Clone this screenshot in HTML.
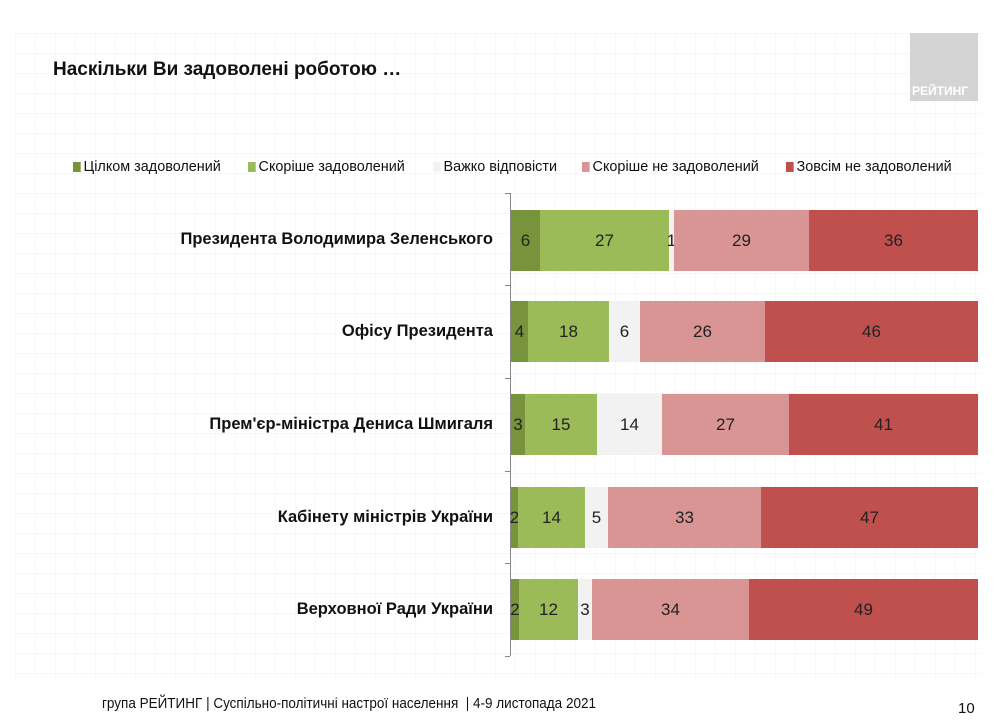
<!DOCTYPE html>
<html><head><meta charset="utf-8"><style>
body{margin:0;width:1007px;height:720px;background:#fff;position:relative;overflow:hidden;font-family:"Liberation Sans",sans-serif;color:#111}
.a{position:absolute;white-space:nowrap}
.grid{position:absolute;left:15px;top:33px;width:965px;height:645px;background-image:linear-gradient(#f7f7f7 1px,transparent 1px),linear-gradient(90deg,#f7f7f7 1px,transparent 1px);background-size:20px 20px}
.s{position:absolute;height:61px;display:flex;align-items:center;justify-content:center;font-size:17px;color:#222}
.lab{position:absolute;right:514px;font-weight:bold;font-size:16.5px;text-align:right;white-space:nowrap}
.lg{position:absolute;top:158px;font-size:15px;white-space:nowrap;transform:scaleX(0.96);transform-origin:left}
.lg i{display:inline-block;width:8px;height:10px;margin-right:3px;vertical-align:-1px}
</style></head><body>
<div class="grid"></div>
<div class="a" style="left:53px;top:59px;font-size:19px;font-weight:bold">Наскільки Ви задоволені роботою …</div>
<div class="a" style="left:910px;top:33px;width:68px;height:68px;background:#d4d4d4"></div>
<div class="a" style="left:912px;top:84px;font-size:12px;font-weight:bold;color:#fff">РЕЙТИНГ</div>

<div class="lg" style="left:73px"><i style="background:#77933c"></i>Цілком задоволений</div>
<div class="lg" style="left:248px"><i style="background:#9bbb59"></i>Скоріше задоволений</div>
<div class="lg" style="left:433px"><i style="background:#f2f2f2"></i>Важко відповісти</div>
<div class="lg" style="left:582px"><i style="background:#d99594"></i>Скоріше не задоволений</div>
<div class="lg" style="left:786px"><i style="background:#c0504d"></i>Зовсім не задоволений</div>

<div class="a" style="left:510px;top:193px;width:1px;height:463px;background:#888"></div>
<div class="a" style="left:505px;top:193px;width:5px;height:1px;background:#888"></div>
<div class="a" style="left:505px;top:285px;width:5px;height:1px;background:#888"></div>
<div class="a" style="left:505px;top:378px;width:5px;height:1px;background:#888"></div>
<div class="a" style="left:505px;top:471px;width:5px;height:1px;background:#888"></div>
<div class="a" style="left:505px;top:563px;width:5px;height:1px;background:#888"></div>
<div class="a" style="left:505px;top:656px;width:5px;height:1px;background:#888"></div>

<div class="lab" style="top:230px">Президента Володимира Зеленського</div>
<div class="lab" style="top:322px">Офісу Президента</div>
<div class="lab" style="top:415px">Прем'єр-міністра Дениса Шмигаля</div>
<div class="lab" style="top:508px">Кабінету міністрів України</div>
<div class="lab" style="top:600px">Верховної Ради України</div>

<div class="s" style="top:210px;left:511px;width:29px;background:#77933c">6</div>
<div class="s" style="top:210px;left:540px;width:129px;background:#9bbb59">27</div>
<div class="s" style="top:210px;left:669px;width:5px;background:#f2f2f2">1</div>
<div class="s" style="top:210px;left:674px;width:135px;background:#d99594">29</div>
<div class="s" style="top:210px;left:809px;width:169px;background:#c0504d">36</div>

<div class="s" style="top:301px;left:511px;width:17px;background:#77933c">4</div>
<div class="s" style="top:301px;left:528px;width:81px;background:#9bbb59">18</div>
<div class="s" style="top:301px;left:609px;width:31px;background:#f2f2f2">6</div>
<div class="s" style="top:301px;left:640px;width:125px;background:#d99594">26</div>
<div class="s" style="top:301px;left:765px;width:213px;background:#c0504d">46</div>

<div class="s" style="top:394px;left:511px;width:14px;background:#77933c">3</div>
<div class="s" style="top:394px;left:525px;width:72px;background:#9bbb59">15</div>
<div class="s" style="top:394px;left:597px;width:65px;background:#f2f2f2">14</div>
<div class="s" style="top:394px;left:662px;width:127px;background:#d99594">27</div>
<div class="s" style="top:394px;left:789px;width:189px;background:#c0504d">41</div>

<div class="s" style="top:487px;left:511px;width:7px;background:#77933c">2</div>
<div class="s" style="top:487px;left:518px;width:67px;background:#9bbb59">14</div>
<div class="s" style="top:487px;left:585px;width:23px;background:#f2f2f2">5</div>
<div class="s" style="top:487px;left:608px;width:153px;background:#d99594">33</div>
<div class="s" style="top:487px;left:761px;width:217px;background:#c0504d">47</div>

<div class="s" style="top:579px;left:511px;width:8px;background:#77933c">2</div>
<div class="s" style="top:579px;left:519px;width:59px;background:#9bbb59">12</div>
<div class="s" style="top:579px;left:578px;width:14px;background:#f2f2f2">3</div>
<div class="s" style="top:579px;left:592px;width:157px;background:#d99594">34</div>
<div class="s" style="top:579px;left:749px;width:229px;background:#c0504d">49</div>

<div class="a" style="left:102px;top:695px;font-size:15px;transform:scaleX(0.9);transform-origin:left">група РЕЙТИНГ | Суспільно-політичні настрої населення &nbsp;| 4-9 листопада 2021</div>
<div class="a" style="left:958px;top:700px;font-size:15px">10</div>
</body></html>
